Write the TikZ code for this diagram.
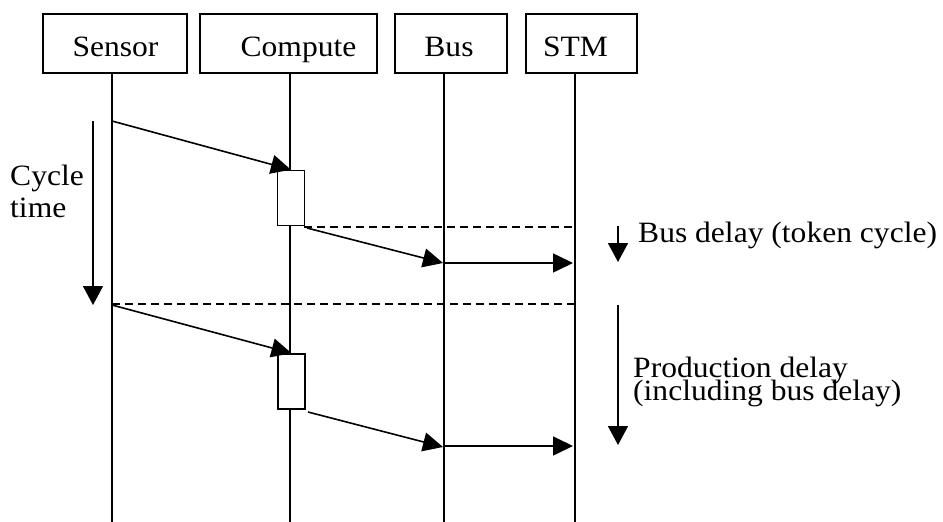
\documentclass[tikz,border=0pt]{standalone}
\usepackage{fontspec}
\setmainfont{Liberation Serif}[FakeStretch=1.07]
\usetikzlibrary{arrows.meta}
\begin{document}
\begin{tikzpicture}[x=1pt,y=-1pt,
  line/.style={line width=1.6pt},
  box/.style={draw, line width=1.6pt, fill=white, inner sep=0pt},
  lbl/.style={inner sep=0pt, font=\fontsize{29.5}{31}\selectfont},
  msg/.style={line width=1.6pt, -{Triangle[length=20pt,width=19pt]}},
  sidearrow/.style={line width=1.6pt, -{Triangle[length=19pt,width=20pt]}},
  dashline/.style={line width=1.4pt, dash pattern=on 8pt off 5pt}]
\useasboundingbox (0,0) rectangle (943,522);
% lifeline bottoms
\coordinate (sB) at (112,522);
\coordinate (cB) at (290,522);
\coordinate (bB) at (444,522);
\coordinate (tB) at (575,522);
% header boxes
\node[box, minimum width=144pt, minimum height=59pt] (sensor) at (115,43.5) {};
\node[box, minimum width=177pt, minimum height=59pt] (compute) at (288.5,43.5) {};
\node[box, minimum width=112pt, minimum height=59pt] (bus) at (451,43.5) {};
\node[box, minimum width=111pt, minimum height=59pt] (stm) at (581.5,43.5) {};
\node[lbl, anchor=base] (sensorlbl) at (115.5,56) {Sensor};
\node[lbl, anchor=base] (computelbl) at (298.5,56) {Compute};
\node[lbl, anchor=base] (buslbl) at (449,56) {Bus};
\node[lbl, anchor=base] (stmlbl) at (575.5,56) {STM};
% lifelines
\draw[line] (sensor.south -| sB) -- (sB);
\draw[line] (compute.south -| cB) -- (cB);
\draw[line] (bus.south -| bB) -- (bB);
\draw[line] (stm.south -| tB) -- (tB);
% activation boxes
\node[box, minimum width=27pt, minimum height=55pt] (act1) at (291,198) {};
\node[box, minimum width=27pt, minimum height=55pt] (act2) at (291.5,381.5) {};
% dashed lines
\coordinate (d1s) at (304,227);
\coordinate (d1e) at (575,227);
\coordinate (d2s) at (112,304);
\coordinate (d2e) at (575,304);
\draw[dashline] (d1s) -- (d1e);
\draw[dashline] (d2s) -- (d2e);
% messages, first cycle
\coordinate (m1s) at (112,121);
\draw[msg] (m1s) -- (act1.north);
\coordinate (m2s) at (307,228);
\coordinate (m2e) at (443,263);
\draw[msg] (m2s) -- (m2e);
\coordinate (b1s) at (444,263);
\coordinate (b1e) at (573,263);
\draw[msg] (b1s) -- (b1e);
% messages, second cycle
\coordinate (m3s) at (112,305);
\draw[msg] (m3s) -- (act2.north);
\coordinate (m4s) at (308,412);
\coordinate (m4e) at (443,447);
\draw[msg] (m4s) -- (m4e);
\coordinate (b2s) at (444,446);
\coordinate (b2e) at (573,446);
\draw[msg] (b2s) -- (b2e);
% side arrows
\coordinate (cyc1) at (93,121);
\coordinate (cyc2) at (93,305);
\draw[sidearrow] (cyc1) -- (cyc2);
\coordinate (bd1) at (618,226);
\coordinate (bd2) at (618,262);
\draw[sidearrow] (bd1) -- (bd2);
\coordinate (pd1) at (618,305);
\coordinate (pd2) at (618,445);
\draw[sidearrow] (pd1) -- (pd2);
% labels
\node[lbl, anchor=base west] (cyclelbl) at (10,185) {Cycle};
\node[lbl, anchor=base west] (timelbl) at (10,217) {time};
\node[lbl, anchor=base west] (busdelaylbl) at (638,242) {Bus delay (token cycle)};
\node[lbl, anchor=base west] (prodlbl) at (633,377) {Production delay};
\node[lbl, anchor=base west] (inclbl) at (633,400) {(including bus delay)};
\end{tikzpicture}
\end{document}
